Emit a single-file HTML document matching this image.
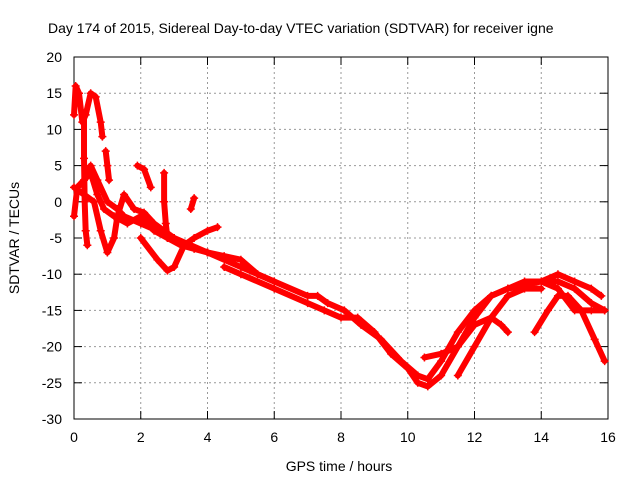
<!DOCTYPE html>
<html><head><meta charset="utf-8"><style>
body{margin:0;background:#fff}
svg{font-family:"Liberation Sans",sans-serif;font-size:14px}
</style></head><body>
<svg id="c" width="640" height="480">
<rect width="640" height="480" fill="#fff"/>
<text x="48" y="33">Day 174 of 2015, Sidereal Day-to-day VTEC variation (SDTVAR) for receiver igne</text>
<g id="grid"></g><g id="axes"></g><g id="data"></g>
<text x="339" y="471" text-anchor="middle">GPS time / hours</text>
<text transform="translate(19,238) rotate(-90)" text-anchor="middle">SDTVAR / TECUs</text>
</svg>
<script>
const xTicks=[0,2,4,6,8,10,12,14,16];
const yTicks=[20,15,10,5,0,-5,-10,-15,-20,-25,-30];
const trackA=[[0,12],[0.05,16],[0.15,15],[0.25,11],[0.35,12],[0.5,15],[0.65,14.5],[0.8,11],[0.85,9]];
const trackA2=[[0.3,12],[0.3,6],[0.32,0],[0.35,-4],[0.4,-6]];
const trackB=[[0.95,7],[1.0,5],[1.05,3]];
const trackC=[[0,-2],[0.1,2],[0.3,3],[0.5,5],[0.7,3],[1.0,0],[1.3,-1],[1.5,-2],[2.0,-3],[2.5,-4],[3,-5],[3.5,-6],[4,-7],[4.5,-7.5],[5,-8],[5.5,-10],[6,-11]];
const trackD=[[0,2],[0.3,1],[0.6,0],[0.8,-4],[1,-7],[1.2,-5],[1.3,-2],[1.5,1],[1.8,-1],[2.1,-1.5],[2.4,-3],[2.7,-4],[3.0,-5]];
const trackK=[[0.3,3],[0.5,4],[0.7,1],[0.9,-1],[1.2,-2],[1.6,-3],[2.0,-2],[2.4,-4],[2.8,-5],[3.2,-6],[3.6,-6.5],[4.0,-7]];
const trackL=[[1.9,5],[2.1,4.5],[2.3,2]];
const trackM=[[2.0,-5],[2.5,-8],[2.8,-9.5],[3.0,-9],[3.3,-6],[3.6,-5],[4.0,-4],[4.3,-3.5]];
const trackN=[[2.7,4],[2.7,0],[2.75,-3],[2.8,-5]];
const trackO=[[3.5,-1],[3.6,0.5]];
const trackE=[[4.5,-9],[5,-10],[6,-12],[7,-14],[7.5,-15],[8,-16],[8.5,-16],[9,-18],[9.5,-21],[10,-23],[10.3,-25],[10.6,-25.5],[11,-24],[11.5,-20],[12,-16],[12.5,-13],[13,-12],[13.5,-11.5],[14,-11],[14.5,-10],[15,-11],[15.5,-12],[15.8,-13]];
const trackF=[[4,-7],[5,-9],[6,-11],[7,-13],[7.3,-13],[7.6,-14],[8.1,-15],[8.6,-17],[9.2,-19],[9.8,-22],[10.3,-24],[10.6,-24.5],[11,-22],[11.5,-18],[12,-15],[12.5,-13],[13,-12],[13.5,-11],[14,-11],[14.5,-11],[15,-12],[15.5,-14],[15.9,-15]];
const trackG=[[10.5,-21.5],[11,-21],[11.5,-20],[12,-17],[12.5,-16],[12.8,-17],[13,-18]];
const trackH=[[11.5,-24],[12,-20],[12.5,-16],[13,-13],[13.5,-12],[14,-12]];
const trackI=[[13.8,-18],[14.2,-15],[14.5,-13],[14.8,-13],[15.2,-15],[15.6,-19],[15.9,-22]];
const trackJ=[[14,-11],[14.5,-12],[15,-15],[15.5,-15],[15.9,-15]];
const tracks=[trackA,trackA2,trackB,trackC,trackD,trackK,trackL,trackM,trackN,trackO,trackE,trackF,trackG,trackH,trackI,trackJ];
const X0=74,X1=608,Y0=57,Y1=419;
const sx=v=>X0+(v-0)/16*(X1-X0);
const sy=v=>Y0+(20-v)/50*(Y1-Y0);
const NS='http://www.w3.org/2000/svg';
function mk(t,a,p){const e=document.createElementNS(NS,t);for(const k in a)e.setAttribute(k,a[k]);p.appendChild(e);return e;}
const grid=document.getElementById('grid'),axes=document.getElementById('axes'),data=document.getElementById('data');
xTicks.forEach(t=>{const x=sx(t);
 if(t>0&&t<16){const g=mk('line',{x1:x,x2:x,y1:Y0,y2:Y1,stroke:'#999','stroke-dasharray':'2,3'},grid);}
 mk('line',{x1:x,x2:x,y1:Y1,y2:Y1-8,stroke:'#000'},axes);mk('line',{x1:x,x2:x,y1:Y0,y2:Y0+8,stroke:'#000'},axes);
 const l=mk('text',{x:x,y:442,'text-anchor':'middle'},axes);l.textContent=t;
 });
yTicks.forEach(t=>{const y=sy(t);
 if(t<20&&t>-30){const g=mk('line',{x1:X0,x2:X1,y1:y,y2:y,stroke:'#999','stroke-dasharray':'2,3'},grid);}
 mk('line',{x1:X0,x2:X0+8,y1:y,y2:y,stroke:'#000'},axes);mk('line',{x1:X1,x2:X1-8,y1:y,y2:y,stroke:'#000'},axes);
 const l=mk('text',{x:62,y:y+5,'text-anchor':'end'},axes);l.textContent=t;
 });
const fr=mk('rect',{x:X0,y:Y0,width:X1-X0,height:Y1-Y0,fill:'none',stroke:'#000'},axes);

tracks.forEach(tr=>{
 const pl=mk('polyline',{points:tr.map(p=>sx(p[0])+','+sy(p[1])).join(' '),fill:'none',stroke:'#f00','stroke-width':6,'stroke-linejoin':'round','stroke-linecap':'round'},data);
 
 tr.forEach(p=>{const x=sx(p[0]),y=sy(p[1]);
  const m=mk('path',{d:`M${x-4},${y}h8M${x},${y-4}v8`,stroke:'#f00','stroke-width':1.5},data);
  });
});
</script>
</body></html>
